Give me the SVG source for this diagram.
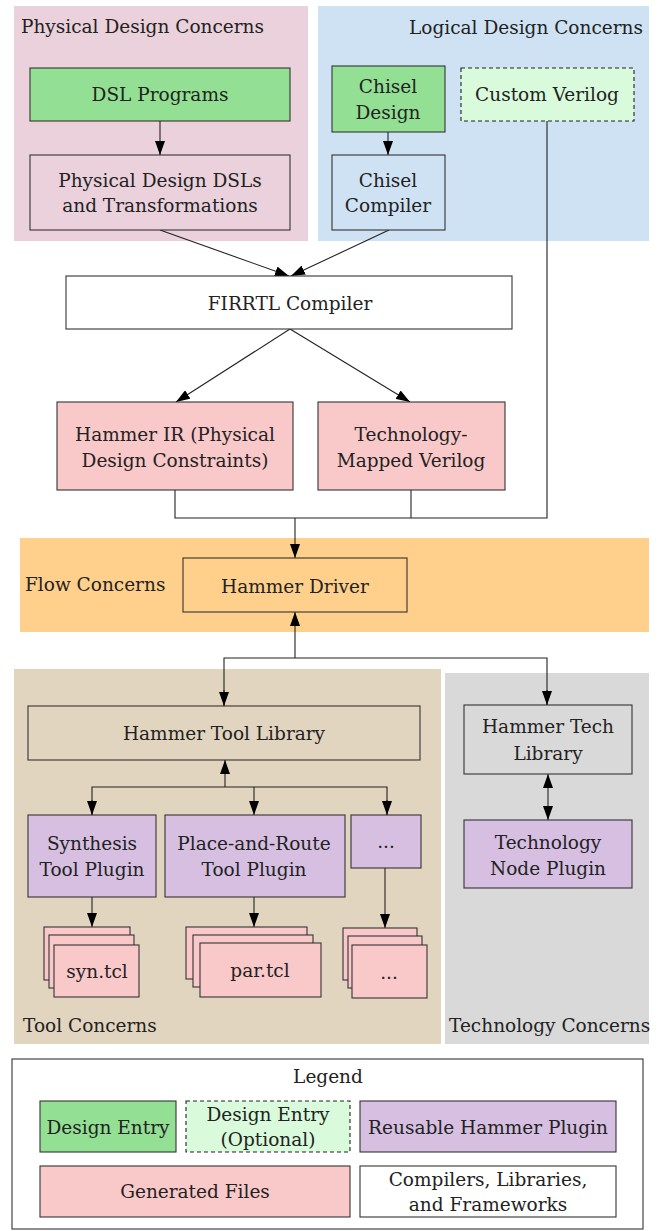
<svg xmlns="http://www.w3.org/2000/svg" width="667" height="1231" viewBox="0 0 667 1231">
<style>
text{font-family:"DejaVu Serif","Liberation Serif",serif;font-size:18.5px;fill:#222;}
.c{text-anchor:middle;}
.r{text-anchor:end;}
.box{stroke:#333;stroke-width:1.1;}
.white{fill:#fff;}
.green{fill:#93df93;}
.lgreen{fill:#d9fadb;stroke-dasharray:4 3;stroke:#222;}
.pink{fill:#f9c8c9;}
.purple{fill:#d6bfe1;}
.orange{fill:#ffcf8c;}
.gray{fill:#d9d9d9;}
.pdbg{fill:#ead1dc;}
.ln{fill:none;stroke:#222;stroke-width:1.1;}
</style>
<defs>
<marker id="ah" markerUnits="userSpaceOnUse" markerWidth="14" markerHeight="10" refX="14" refY="5" orient="auto-start-reverse" viewBox="0 0 14 10">
<path d="M0,0 L14,5 L0,10 z" fill="#000"/>
</marker>
</defs>
<g id="regions">
<rect id="physical-region" x="14" y="6" width="294" height="235" fill="#ead1dc"/>
<rect id="logical-region" x="318" y="6" width="331" height="235" fill="#cfe2f3"/>
<rect id="flow-region" x="20" y="538" width="629" height="94" fill="#ffcf8c"/>
<rect id="tool-region" x="14" y="669" width="427" height="375" fill="#e2d5bf"/>
<rect id="tech-region" x="445" y="673" width="204" height="371" fill="#d9d9d9"/>
<text x="21" y="33">Physical Design Concerns</text>
<text class="r" x="643" y="34">Logical Design Concerns</text>
<text x="25" y="591">Flow Concerns</text>
<text x="23" y="1032">Tool Concerns</text>
<text x="449" y="1032">Technology Concerns</text>
</g>
<g id="connectors">
<line class="ln" x1="160" y1="121" x2="160" y2="155" marker-end="url(#ah)"/>
<line class="ln" x1="388" y1="132" x2="388" y2="155" marker-end="url(#ah)"/>
<line class="ln" x1="160" y1="230" x2="289" y2="276" marker-end="url(#ah)"/>
<line class="ln" x1="389" y1="230" x2="291" y2="276" marker-end="url(#ah)"/>
<line class="ln" x1="290" y1="329" x2="176" y2="402" marker-end="url(#ah)"/>
<line class="ln" x1="290" y1="329" x2="410" y2="402" marker-end="url(#ah)"/>
<polyline class="ln" points="175,490 175,518 547,518 547,121"/>
<line class="ln" x1="411" y1="490" x2="411" y2="518"/>
<line class="ln" x1="295" y1="518" x2="295" y2="558" stroke-width="1.6" marker-end="url(#ah)"/>
<line class="ln" x1="295" y1="658" x2="295" y2="612" marker-end="url(#ah)"/>
<polyline class="ln" points="224,706 224,658 547,658 547,705"/>
<line class="ln" x1="224" y1="690" x2="224" y2="706" marker-end="url(#ah)"/>
<line class="ln" x1="547" y1="690" x2="547" y2="705" marker-end="url(#ah)"/>
<line class="ln" x1="225" y1="787" x2="225" y2="760" marker-end="url(#ah)"/>
<polyline class="ln" points="92,815 92,787 387,787 387,815"/>
<line class="ln" x1="92" y1="800" x2="92" y2="815" marker-end="url(#ah)"/>
<line class="ln" x1="254" y1="787" x2="254" y2="815" marker-end="url(#ah)"/>
<line class="ln" x1="387" y1="800" x2="387" y2="815" marker-end="url(#ah)"/>
<line class="ln" x1="548" y1="774" x2="548" y2="820" marker-start="url(#ah)" marker-end="url(#ah)"/>
<line class="ln" x1="92" y1="897" x2="92" y2="927" marker-end="url(#ah)"/>
<line class="ln" x1="254" y1="897" x2="254" y2="927" marker-end="url(#ah)"/>
<line class="ln" x1="385" y1="868" x2="385" y2="928" marker-end="url(#ah)"/>
</g>
<g id="dsl-programs"><rect class="box green" x="30" y="68" width="260" height="53"/><text class="c" x="160" y="101">DSL Programs</text></g>
<g id="pd-dsls"><rect class="box pdbg" x="30" y="155" width="260" height="75"/><text class="c" x="160" y="187">Physical Design DSLs</text><text class="c" x="160" y="212">and Transformations</text></g>
<g id="chisel-design"><rect class="box green" x="332" y="66" width="113" height="66"/><text class="c" x="388" y="93">Chisel</text><text class="c" x="388" y="119">Design</text></g>
<g id="chisel-compiler"><rect class="box" fill="#cfe2f3" x="332" y="155" width="113" height="75"/><text class="c" x="388" y="187">Chisel</text><text class="c" x="388" y="212">Compiler</text></g>
<g id="custom-verilog"><rect class="box lgreen" x="461" y="68" width="173" height="53"/><text class="c" x="547" y="101">Custom Verilog</text></g>
<g id="firrtl"><rect class="box white" x="66" y="276" width="446" height="53"/><text class="c" x="290" y="310">FIRRTL Compiler</text></g>
<g id="hammer-ir"><rect class="box pink" x="57" y="402" width="236" height="88"/><text class="c" x="175" y="441">Hammer IR (Physical</text><text class="c" x="175" y="467">Design Constraints)</text></g>
<g id="tech-verilog"><rect class="box pink" x="318" y="402" width="187" height="88"/><text class="c" x="411" y="441">Technology-</text><text class="c" x="411" y="467">Mapped Verilog</text></g>
<g id="hammer-driver"><rect class="box orange" x="183" y="558" width="224" height="54"/><text class="c" x="295" y="593">Hammer Driver</text></g>
<g id="tool-library"><rect class="box" fill="#e2d5bf" x="28" y="706" width="392" height="54"/><text class="c" x="224" y="740">Hammer Tool Library</text></g>
<g id="tech-library"><rect class="box gray" x="464" y="705" width="168" height="69"/><text class="c" x="548" y="733">Hammer Tech</text><text class="c" x="548" y="760">Library</text></g>
<g id="synthesis-plugin"><rect class="box purple" x="28" y="815" width="128" height="82"/><text class="c" x="92" y="850">Synthesis</text><text class="c" x="92" y="876">Tool Plugin</text></g>
<g id="par-plugin"><rect class="box purple" x="165" y="815" width="180" height="82"/><text class="c" x="254" y="850">Place-and-Route</text><text class="c" x="254" y="876">Tool Plugin</text></g>
<g id="more-plugin"><rect class="box purple" x="351" y="815" width="70" height="53"/><text class="c" x="386" y="848">...</text></g>
<g id="tech-node-plugin"><rect class="box purple" x="464" y="820" width="168" height="68"/><text class="c" x="548" y="849">Technology</text><text class="c" x="548" y="875">Node Plugin</text></g>
<g id="syn-files"><rect class="box pink" x="44" y="927" width="86" height="53"/><rect class="box pink" x="49" y="935" width="85" height="53"/><rect class="box pink" x="54" y="945" width="85" height="52"/><text class="c" x="97" y="978">syn.tcl</text></g>
<g id="par-files"><rect class="box pink" x="186" y="927" width="121" height="52"/><rect class="box pink" x="193" y="935" width="120" height="52"/><rect class="box pink" x="200" y="943" width="121" height="54"/><text class="c" x="260" y="977">par.tcl</text></g>
<g id="more-files"><rect class="box pink" x="343" y="928" width="74" height="52"/><rect class="box pink" x="348" y="936" width="74" height="52"/><rect class="box pink" x="352" y="945" width="75" height="53"/><text class="c" x="389" y="979">...</text></g>
<g id="legend">
<rect class="box white" x="12" y="1059" width="631" height="170"/>
<text class="c" x="328" y="1083">Legend</text>
<g id="legend-design-entry"><rect class="box green" x="40" y="1101" width="136" height="51"/><text class="c" x="108" y="1134">Design Entry</text></g>
<g id="legend-optional"><rect class="box lgreen" x="186" y="1101" width="164" height="51"/><text class="c" x="268" y="1121">Design Entry</text><text class="c" x="268" y="1146">(Optional)</text></g>
<g id="legend-plugin"><rect class="box purple" x="360" y="1101" width="256" height="51"/><text class="c" x="488" y="1134">Reusable Hammer Plugin</text></g>
<g id="legend-generated"><rect class="box pink" x="40" y="1166" width="310" height="51"/><text class="c" x="195" y="1198">Generated Files</text></g>
<g id="legend-compilers"><rect class="box white" x="360" y="1166" width="256" height="51"/><text class="c" x="488" y="1186">Compilers, Libraries,</text><text class="c" x="488" y="1211">and Frameworks</text></g>
</g>
</svg>
